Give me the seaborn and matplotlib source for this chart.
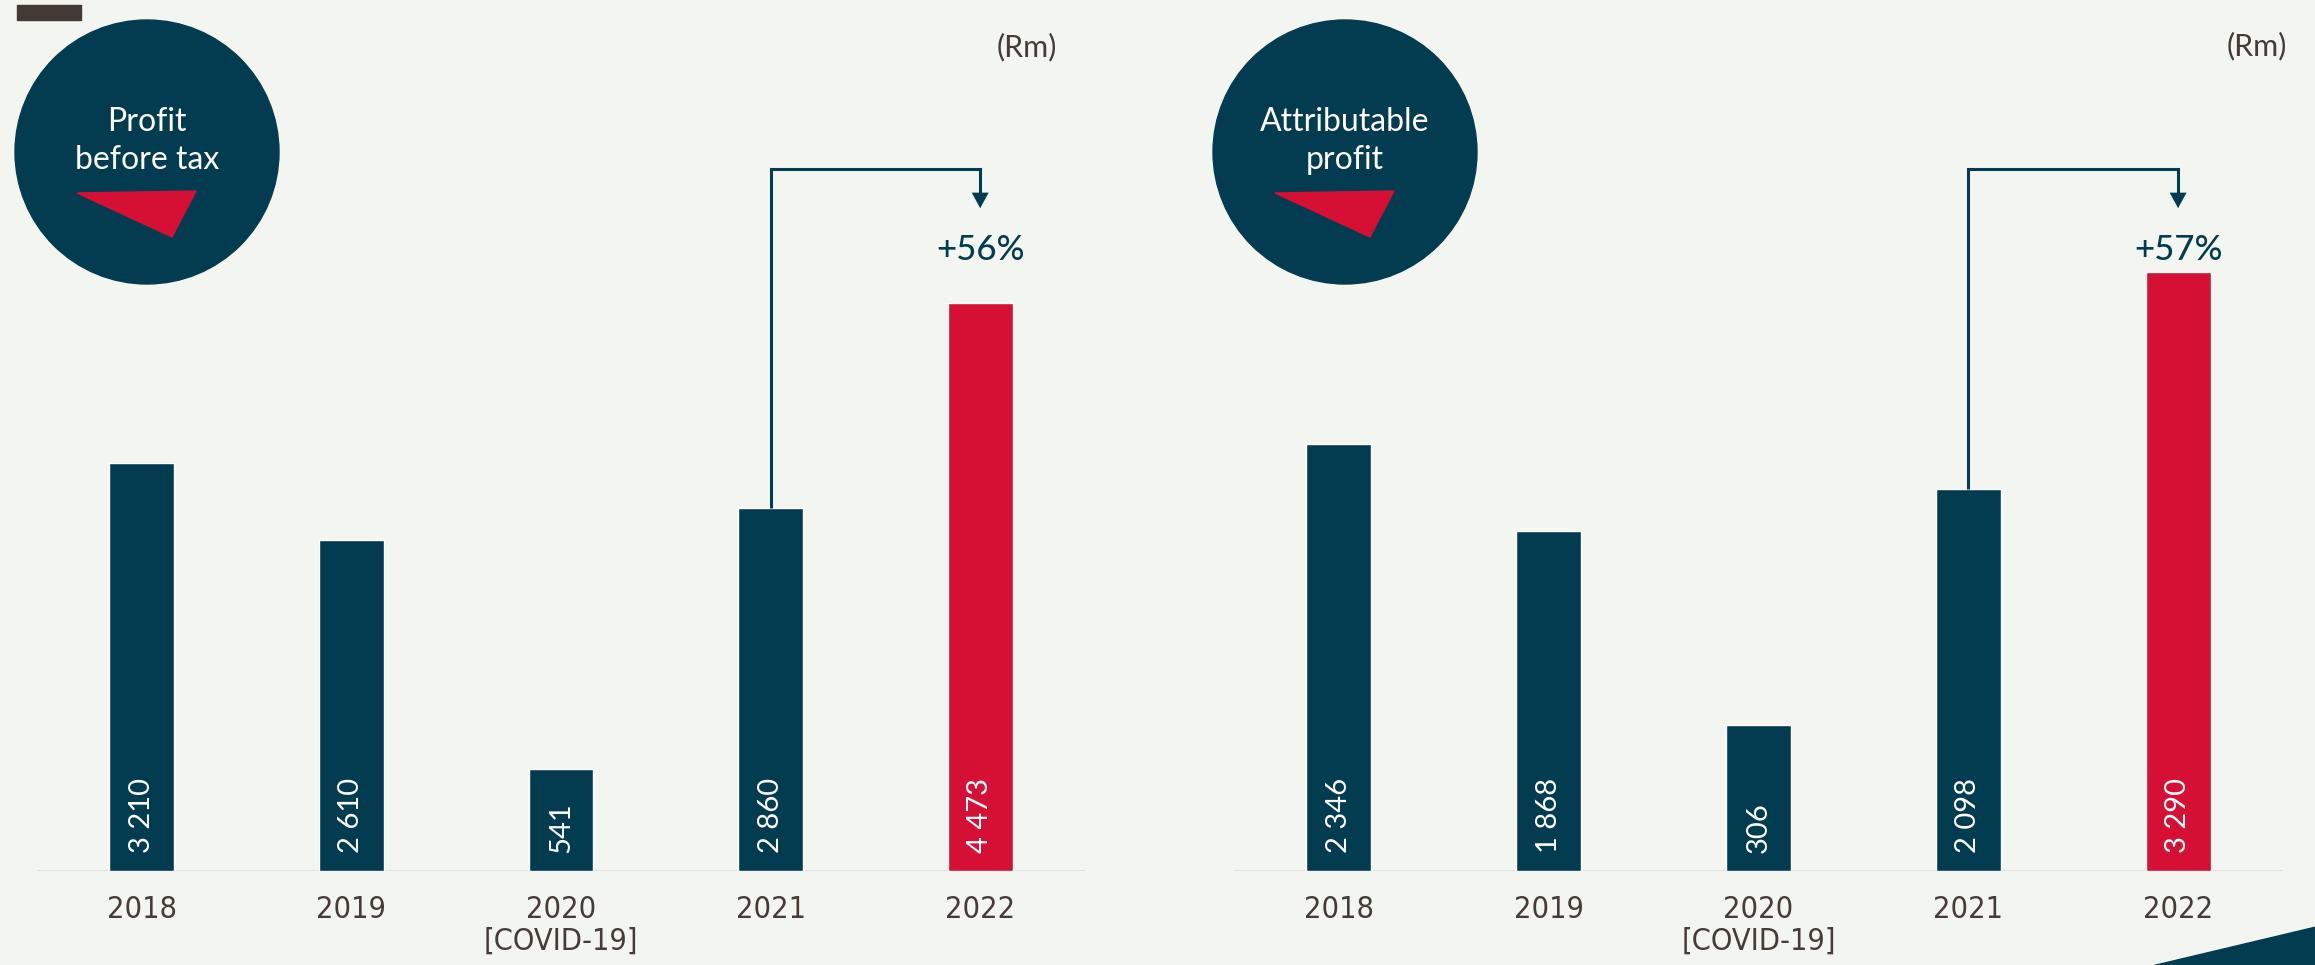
import matplotlib
matplotlib.use("Agg")
import matplotlib.pyplot as plt
import seaborn as sns
import pandas as pd
from matplotlib.patches import Circle, Polygon, Rectangle
from matplotlib import font_manager

# ---------------- data ----------------
years = ["2018", "2019", "2020", "2021", "2022"]
year_labels = ["2018", "2019", "2020\n[COVID-19]", "2021", "2022"]
pbt_values = [3210, 2610, 541, 2860, 4473]
pbt_labels = ["3 210", "2 610", "541", "2 860", "4 473"]
attr_values = [2346, 1868, 306, 2098, 3290]
attr_labels = ["2 346", "1 868", "306", "2 098", "3 290"]
pbt_growth = "+56%"
attr_growth = "+57%"
titles = ["Profit\nbefore tax", "Attributable\nprofit"]
unit = "(Rm)"

# ---------------- style ----------------
BG = "#f3f5f0"
NAVY = "#033b51"
RED = "#d51034"
BROWN = "#463c36"
GRID = "#e2e3df"
MIN_DISPLAY = 800  # designer's minimum visible bar height

sns.set_theme(style="white")
avail = {f.name for f in font_manager.fontManager.ttflist}
NARROW = "Liberation Sans Narrow" if "Liberation Sans Narrow" in avail else "DejaVu Sans"
plt.rcParams["font.family"] = ["Lato", "DejaVu Sans"]

W, H = 2315, 965
fig = plt.figure(figsize=(W / 100, H / 100), dpi=100, facecolor=BG)

def px_axes(x0, x1, ybot):
    return [x0 / W, (H - ybot) / H, (x1 - x0) / W, ybot / H]

panels = [
    dict(rect=px_axes(37, 1085, 871), ytop=871 / 0.1270, vals=pbt_values,
         labs=pbt_labels, growth=pbt_growth),
    dict(rect=px_axes(1234, 2283, 871), ytop=871 / 0.1822, vals=attr_values,
         labs=attr_labels, growth=attr_growth),
]

for p in panels:
    ax = fig.add_axes(p["rect"])
    ax.set_facecolor("none")
    disp = [max(v, MIN_DISPLAY) for v in p["vals"]]
    df = pd.DataFrame({"year": years, "value": disp})
    colors = [NAVY] * (len(years) - 1) + [RED]
    sns.barplot(data=df, x="year", y="value", hue="year", palette=colors,
                width=0.31, dodge=False, legend=False, saturation=1,
                ax=ax, zorder=2)
    ax.set_xlim(-0.5, len(years) - 0.5)
    ax.set_ylim(0, p["ytop"])
    ax.axhline(0, color=GRID, lw=2.2, zorder=1)
    for s in ax.spines.values():
        s.set_visible(False)
    ax.set_yticks([])
    ax.set_xlabel("")
    ax.set_ylabel("")
    ax.set_xticks(range(len(years)))
    ax.set_xticklabels(year_labels, fontsize=22, color=BROWN,
                       family=NARROW, fontstretch="condensed", linespacing=1.15)
    ax.tick_params(axis="x", length=0, pad=17)

    # value labels inside bars
    ytop = p["ytop"]
    for i, lab in enumerate(p["labs"]):
        ax.text(i, 18 / 871 * ytop, lab, rotation=90, ha="center", va="bottom",
                color="white", fontsize=21, zorder=3)

    # growth connector
    yh = 0.806 * ytop
    ytip = 0.761 * ytop
    ax.plot([3, 3, 4, 4], [disp[3], yh, yh, ytip + 0.01 * ytop], color=NAVY,
            lw=2.2, solid_joinstyle="miter", solid_capstyle="butt", zorder=3)
    ax.annotate("", xy=(4, ytip), xytext=(4, ytip + 0.03 * ytop),
                arrowprops=dict(arrowstyle="-|>,head_width=0.3,head_length=0.55",
                                mutation_scale=20, lw=0.1, color=NAVY,
                                shrinkA=0, shrinkB=0), zorder=3)
    ax.text(4, 0.713 * ytop, p["growth"], ha="center", va="center",
            color=NAVY, fontsize=25, fontweight="medium")

# ---------------- decorations (pixel overlay) ----------------
ov = fig.add_axes([0, 0, 1, 1])
ov.set_xlim(0, W)
ov.set_ylim(H, 0)
ov.axis("off")
ov.patch.set_alpha(0)

ov.add_patch(Rectangle((17, 5), 64, 15, color="#433a33"))
for cx, title in zip([147, 1345], titles):
    ov.add_patch(Circle((cx, 152), 132, color=NAVY))
    l1, l2 = title.split("\n")
    ov.text(cx, 122, l1, ha="center", va="center", color="white",
            fontsize=23, fontweight="normal")
    ov.text(cx, 160, l2, ha="center", va="center", color="white",
            fontsize=23, fontweight="normal")
    ov.add_patch(Polygon([(cx - 70, 193), (cx + 49, 191), (cx + 25, 237)],
                         closed=True, color=RED))

ov.text(1027, 47, unit, ha="center", va="center", color=BROWN, fontsize=22)
ov.text(2257, 46, unit, ha="center", va="center", color=BROWN, fontsize=22)
ov.add_patch(Polygon([(2152, 966), (2316, 927), (2316, 966)], closed=True,
                     color=NAVY))

fig.savefig("out.png", dpi=100, facecolor=BG)
